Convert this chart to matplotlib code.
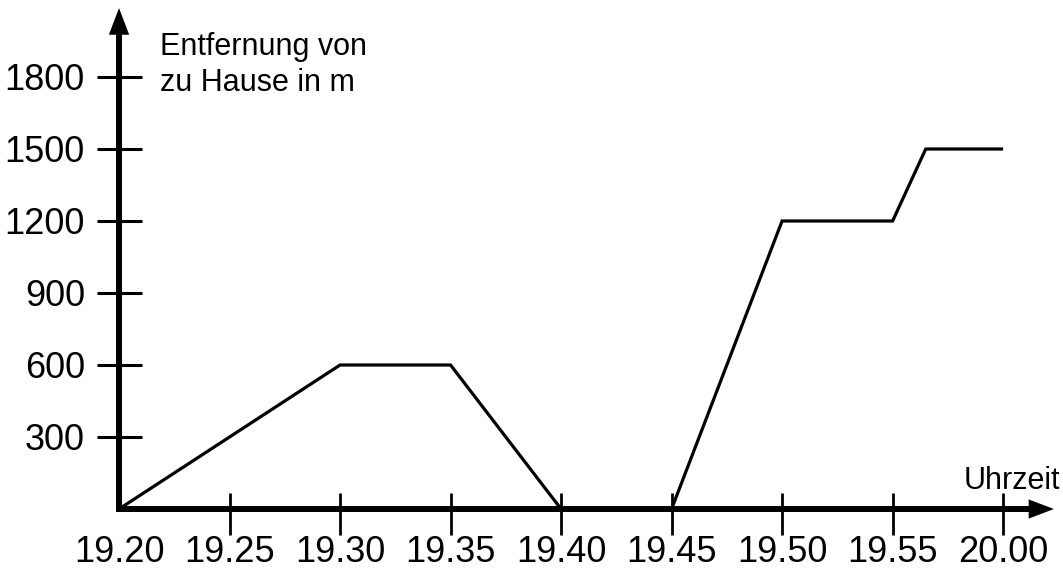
import matplotlib
matplotlib.use("Agg")
import matplotlib.pyplot as plt

# Data: minutes after 19:20 and distance from home in m
minutes = [0, 10, 15, 20, 25, 30, 35, 36.5, 40]
distance = [0, 600, 600, 0, 0, 1200, 1200, 1500, 1500]

x_ticks = [0, 5, 10, 15, 20, 25, 30, 35, 40]
x_labels = ["19.20", "19.25", "19.30", "19.35", "19.40", "19.45", "19.50", "19.55", "20.00"]
y_ticks = [300, 600, 900, 1200, 1500, 1800]
y_labels = ["300", "600", "900", "1200", "1500", "1800"]

y_title_1 = "Entfernung von"
y_title_2 = "zu Hause in m"
x_title = "Uhrzeit"

font = ["Liberation Sans", "DejaVu Sans"]

fig = plt.figure(figsize=(10.63, 5.71), dpi=100)
ax = fig.add_axes([0, 0, 1, 1])
ax.set_xlim(-5.385, 42.71)
ax.set_ylim(-258.3, 2120.8)
ax.axis("off")

# axes with arrows
ax.annotate("", xy=(0, 2087), xytext=(0, -12),
            arrowprops=dict(arrowstyle="-|>,head_length=11,head_width=4.2",
                            mutation_scale=1, lw=4.3, color="black",
                            shrinkA=0, shrinkB=0, joinstyle="miter",
                            capstyle="butt"))
ax.annotate("", xy=(42.3, 0), xytext=(-0.1, 0),
            arrowprops=dict(arrowstyle="-|>,head_length=10,head_width=3.8",
                            mutation_scale=1, lw=4.3, color="black",
                            shrinkA=0, shrinkB=0, joinstyle="miter",
                            capstyle="butt"))

# x ticks
for xt in x_ticks[1:]:
    ax.plot([xt, xt], [66.7, -108.3], color="black", lw=2.0, solid_capstyle="butt")
for xt, lab in zip(x_ticks, x_labels):
    ax.text(xt, (509 - 562) / 0.24, lab, ha="center", va="baseline", fontsize=26,
            family=font, color="black")

# y ticks
for yt, lab in zip(y_ticks, y_labels):
    ax.plot([-1.0, 1.04], [yt, yt], color="black", lw=2.2, solid_capstyle="butt")
    ax.text(-1.54, yt - 55, lab, ha="right", va="baseline", fontsize=26,
            family=font, color="black")

# data line
ax.plot(minutes, distance, color="black", lw=2.3, solid_joinstyle="miter",
        solid_capstyle="butt", zorder=3)

# titles
ax.text(1.86, (509 - 55) / 0.24, y_title_1, ha="left", va="baseline",
        fontsize=22, family=font)
ax.text(1.86, (509 - 91) / 0.24, y_title_2, ha="left", va="baseline",
        fontsize=22, family=font)
ax.text((1060 - 119) / 22.1, (509 - 489) / 0.24, x_title, ha="right", va="baseline",
        fontsize=22, family=font)

fig.savefig("out.png", dpi=100)
